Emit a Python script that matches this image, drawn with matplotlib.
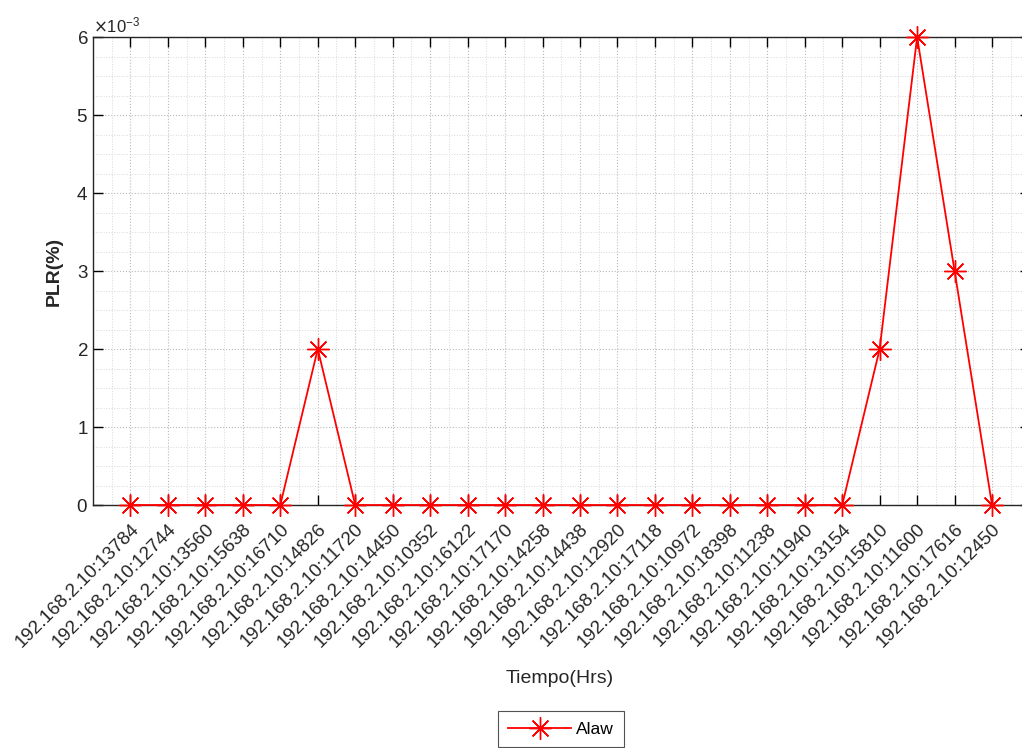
import matplotlib
matplotlib.use("Agg")
import matplotlib.pyplot as plt
from matplotlib.ticker import ScalarFormatter, AutoMinorLocator

plt.rcParams['font.family'] = ['Liberation Sans', 'DejaVu Sans']

labels = ["192.168.2.10:13784", "192.168.2.10:12744", "192.168.2.10:13560",
          "192.168.2.10:15638", "192.168.2.10:16710", "192.168.2.10:14826",
          "192.168.2.10:11720", "192.168.2.10:14450", "192.168.2.10:10352",
          "192.168.2.10:16122", "192.168.2.10:17170", "192.168.2.10:14258",
          "192.168.2.10:14438", "192.168.2.10:12920", "192.168.2.10:17118",
          "192.168.2.10:10972", "192.168.2.10:18398", "192.168.2.10:11238",
          "192.168.2.10:11940", "192.168.2.10:13154", "192.168.2.10:15810",
          "192.168.2.10:11600", "192.168.2.10:17616", "192.168.2.10:12450"]
plr = [0, 0, 0, 0, 0, 0.002, 0, 0, 0, 0, 0, 0, 0, 0, 0, 0, 0, 0, 0, 0,
       0.002, 0.006, 0.003, 0]

fig = plt.figure(figsize=(10.22, 7.48), dpi=100)
ax = fig.add_axes([93/1022, 243/748, (1029.5-93)/1022, (505-37)/748])

x = list(range(1, len(labels)+1))
ax.plot(x, plr, color='#ff0000', lw=1.3, marker=(8, 2, 0), markersize=16,
        markeredgewidth=1.0, label='Alaw', clip_on=False, zorder=5)

ax.set_xlim(0, len(labels)+1)
ax.set_ylim(0, 0.006)
ax.set_xticks(x)
ax.set_xticklabels(labels, rotation=45, ha='right', rotation_mode='anchor',
                   fontsize=13.5, color='#262626')
ax.tick_params(axis='x', pad=11)
ax.set_yticks([0, 0.001, 0.002, 0.003, 0.004, 0.005, 0.006])
fmt = ScalarFormatter(useMathText=True)
fmt.set_powerlimits((-2, 2))
ax.yaxis.set_major_formatter(fmt)
ax.yaxis.get_offset_text().set_fontsize(12)
ax.yaxis.get_offset_text().set_color('#262626')
ax.tick_params(axis='y', labelsize=13.5, labelcolor='#262626')
ax.tick_params(direction='in', length=7, width=1.0, top=True, right=True)
ax.xaxis.set_minor_locator(AutoMinorLocator(2))
ax.yaxis.set_minor_locator(AutoMinorLocator(4))
ax.tick_params(which='minor', length=0)
ax.grid(True, which='major', linestyle=':', color='#bbbbbb', lw=0.8)
ax.grid(True, which='minor', linestyle=':', color='#d8d8d8', lw=0.7)
ax.set_axisbelow(True)
for s in ax.spines.values():
    s.set_color('#262626')
    s.set_linewidth(1.0)

ax.set_ylabel('PLR(%)', fontsize=14, color='#262626', fontweight='bold',
              labelpad=10)
ax.set_xlabel('Tiempo(Hrs)', fontsize=14, color='#262626')
ax.xaxis.set_label_coords((560-93)/(1029.5-93), -(670-505)/468)

leg = ax.legend(loc='center', bbox_to_anchor=(561/1022, 1-729/748),
                bbox_transform=fig.transFigure, fontsize=12.5, frameon=True,
                fancybox=False, edgecolor='#262626', handlelength=3.6,
                borderpad=0.6, handletextpad=0.3)
leg.get_frame().set_linewidth(0.8)

fig.savefig('out.png', dpi=100)
